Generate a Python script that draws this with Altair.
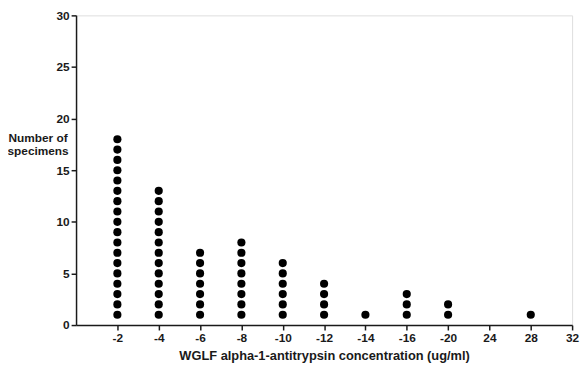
import altair as alt
import pandas as pd

categories = ["-2", "-4", "-6", "-8", "-10", "-12", "-14", "-16", "-20", "24", "28", "32"]
counts = [18, 13, 7, 8, 6, 4, 1, 3, 2, 0, 1, 0]

rows = []
for i, (cat, c) in enumerate(zip(categories, counts)):
    for n in range(1, c + 1):
        rows.append({"pos": i + 1, "cat": cat, "n": n})
df = pd.DataFrame(rows)

label_expr = "[" + ",".join("'" + c + "'" for c in categories) + "][datum.value - 1]"

FONT = "Liberation Sans"
INK = "#1a1a1a"

chart = alt.Chart(df).mark_circle(size=68, color="black", opacity=1).encode(
    x=alt.X("pos:Q", scale=alt.Scale(domain=[0, len(categories)], nice=False, zero=False),
            axis=alt.Axis(values=list(range(1, len(categories) + 1)), labelExpr=label_expr,
                          title="WGLF alpha-1-antitrypsin concentration (ug/ml)",
                          titleFontSize=13, titleFontWeight="bold", titlePadding=6,
                          labelFontSize=12, labelFontWeight="bold", labelPadding=3,
                          tickSize=5, tickWidth=1.5, domainWidth=1.5, grid=False,
                          domainColor=INK, tickColor=INK,
                          labelColor=INK, titleColor=INK, labelFlush=False)),
    y=alt.Y("n:Q", scale=alt.Scale(domain=[0, 30], nice=False),
            axis=alt.Axis(values=[0, 5, 10, 15, 20, 25, 30],
                          title=["Number of", "specimens"], titleAngle=0,
                          titleAlign="center", titleBaseline="top",
                          titleX=-39, titleY=119, titleLineHeight=13,
                          titleFontSize=12, titleFontWeight="bold",
                          labelFontSize=12, labelFontWeight="bold", labelPadding=2,
                          tickSize=5, tickWidth=1.5, domainWidth=1.5, grid=False,
                          domainColor=INK, tickColor=INK,
                          labelColor=INK, titleColor=INK)),
).properties(
    width=503, height=314,
    autosize=alt.AutoSizeParams(type="none"),
    padding={"left": 69, "top": 5, "right": 8, "bottom": 36},
).configure_view(stroke=None).configure(font=FONT, background="white")

chart.save("out.html", embed_options={"renderer": "svg", "actions": False})
